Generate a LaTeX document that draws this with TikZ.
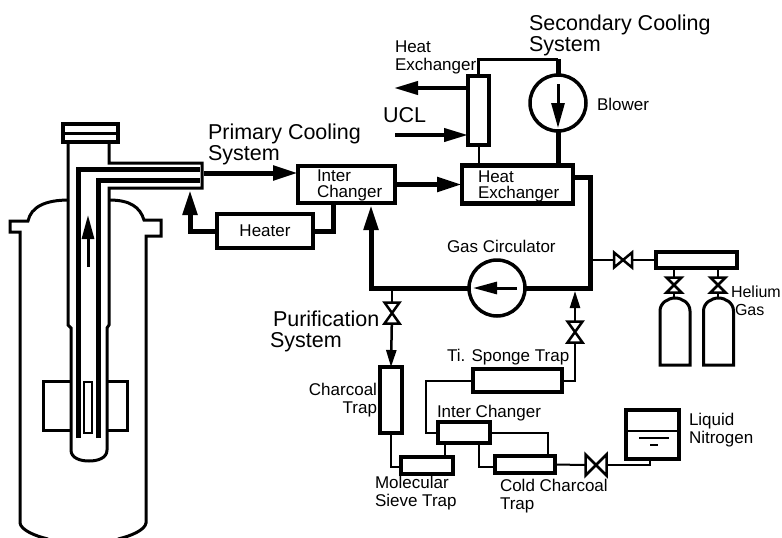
\documentclass[tikz,border=0pt]{standalone}
\usepackage{xcolor}
\usepackage{fontspec}
\setmainfont{Liberation Sans}
\usetikzlibrary{positioning,arrows.meta}

\tikzset{
  pipe/.style={line width=5pt},
  flow/.style={line width=5pt, -{Triangle[length=25pt,width=14pt]}},
  medline/.style={line width=3pt},
  thinline/.style={line width=2pt},
  thinflow/.style={line width=2.5pt, -{Triangle[length=17pt,width=10pt]}},
  box/.style={draw, line width=4.5pt, align=left},
  smallbox/.style={draw, line width=3.5pt},
  wheel/.style={draw, circle, line width=3.5pt, minimum size=56pt},
  big/.style={font=\fontsize{21.5}{21}\selectfont, align=left, anchor=west},
  lab/.style={align=left, anchor=west},
}
\newcommand{\valvev}[4]{%
  \node (#1) [minimum width=#3, minimum height=#4] at (#2) {};
  \draw[line width=2.5pt, line join=miter] (#1.north west) -- (#1.north east) -- (#1.south west) -- (#1.south east) -- cycle;}
\newcommand{\valveh}[4]{%
  \node (#1) [minimum width=#3, minimum height=#4] at (#2) {};
  \draw[line width=2.5pt, line join=miter] (#1.north west) -- (#1.south west) -- (#1.north east) -- (#1.south east) -- cycle;}
\newcommand{\bottle}[1]{%
  \draw[medline, xshift=#1pt] (-15,365) -- (-15,311) .. controls (-15,303) and (-7,298) .. (0,298) .. controls (7,298) and (15,303) .. (15,311) -- (15,365) -- cycle;}

\begin{document}
\begin{tikzpicture}[x=1pt, y=-1pt, every node/.style={inner sep=0pt, outer sep=0pt, font=\fontsize{17}{18}\selectfont}]
    \useasboundingbox (0,0) rectangle (782,538);

    % reactor
    \draw[medline] (69,200) .. controls (45,200) and (31,207) .. (28,221) -- (10,221) -- (10,232) -- (20,232) -- (20,523) .. controls (21,530) and (35,536) .. (48,539);
    \draw[medline] (109,200) .. controls (130,200) and (140,207) .. (144,220) -- (161,220) -- (161,236) -- (146,236) -- (146,523) .. controls (145,530) and (131,536) .. (118,539);
    \draw[medline] (68,142) -- (68,325) -- (71,328) -- (71,450) .. controls (71,458) and (80,461) .. (89,461) .. controls (98,461) and (107,458) .. (107,450) -- (107,328) -- (109,325) -- (109,188) -- (202,188) -- (202,163) -- (109,163) -- (109,142);
    \draw[line width=4pt] (63,124) rectangle (118,142);
    \draw[line width=3pt] (63,133) -- (118,133);
    \draw[pipe] (78,438) -- (78,169) -- (200,169);
    \draw[pipe] (98,438) -- (98,180) -- (200,180);
    \draw[thinline] (84,382) rectangle (92,433);
    \draw[medline] (71,381) -- (43,381) -- (43,430) -- (71,430);
    \draw[medline] (107,381) -- (127,381) -- (127,430) -- (107,430);
    \draw[line width=3pt, -{Triangle[length=24pt,width=12pt]}] (88,267) -- (88,215);

    % primary loop
    \node (IC) [box, minimum width=97pt, minimum height=37pt] at (346.5,184.5) {};
    \node (HE) [box, right=67pt of IC, minimum width=111pt, minimum height=38pt] {};
    \node (HT) [box, below left=11pt and -15pt of IC, minimum width=96pt, minimum height=34pt] {Heater};
    \node (GC) [wheel] at (497,288) {};
    \node (IT) [lab, right=19pt of IC.west, yshift=-1pt] {Inter\\[-2pt]Changer};
    \node (HN) [lab, right=16pt of HE.west, yshift=-2pt] {Heat\\[-2pt]Exchanger};
    \coordinate (PO) at (204,173);
    \coordinate (RI) at (190,190);
    \coordinate (IB) at (333,203);
    \coordinate (IA) at (371,205);
    \coordinate (HO) at (573,177);
    \coordinate (LC) at (590,288);
    \draw[flow] (PO) -- (IC.west |- PO);
    \draw[flow] (IC.east) -- (HE.west);
    \draw[flow] (HT.west) -| (RI);
    \draw[pipe] (HT.east) -| (IB);
    \draw[pipe] (HO) -| (LC) -- (GC.east);
    \draw[flow] (GC.west) -| (IA);
    \draw[line width=3pt, -{Triangle[length=24pt,width=12pt]}] ([xshift=20pt]GC.center) -- ([xshift=-24pt]GC.center);

    % secondary loop
    \node (HX) [box, minimum width=21pt, minimum height=69pt] at (478.5,110.5) {};
    \node (BL) [wheel] at (558,103) {};
    \coordinate (ST) at (558,59);
    \coordinate (UO) at (394,88);
    \coordinate (UI) at (395,135);
    \draw[medline] (HX.north) |- (ST);
    \draw[pipe] (ST) -- (BL.north);
    \draw[pipe] (BL.south) -- (BL.south |- HE.north);
    \draw[thinline] (HX.south) -- (HX.south |- HE.north);
    \draw[line width=4pt, -{Triangle[length=24pt,width=13pt]}] (HX.west |- UO) -- (UO);
    \draw[line width=4pt, -{Triangle[length=24pt,width=13pt]}] (UI) -- (UI -| HX.west);
    \draw[line width=3pt, -{Triangle[length=25pt,width=13pt]}] ([yshift=19pt]BL.center) -- ([yshift=-25pt]BL.center);

    % helium supply
    \coordinate (GL) at (590,260);
    \valveh{VG}{623,260}{18pt}{15pt}
    \node (MF) [smallbox, minimum width=81pt, minimum height=16pt] at (696.5,260) {};
    \valvev{VA}{674,285}{15pt}{15pt}
    \valvev{VB}{718,285}{15pt}{15pt}
    \coordinate (CA) at (674,298);
    \coordinate (CB) at (718,298);
    \draw[thinline] (GL) -- (VG) -- (MF.west);
    \draw[thinline] (MF.south -| VA) -- (VA) -- (CA);
    \draw[thinline] (MF.south -| VB) -- (VB) -- (CB);
    \bottle{675}
    \bottle{718.5}

    % purification line
    \coordinate (GT) at (392,288);
    \coordinate (GA) at (575,291);
    \valvev{VP}{392,313}{15pt}{21pt}
    \valvev{VT}{575,332}{15pt}{21pt}
    \node (CT) [smallbox, minimum width=22pt, minimum height=66pt] at (391,400) {};
    \node (TS) [smallbox, minimum width=89pt, minimum height=23pt] at (517.5,380.5) {};
    \node (IL) [smallbox, minimum width=52pt, minimum height=21pt] at (464,432.5) {};
    \node (MS) [smallbox, minimum width=52pt, minimum height=17pt] at (427,465.5) {};
    \node (CC) [smallbox, minimum width=60pt, minimum height=17pt] at (525,464.5) {};
    \valveh{VN}{596,465}{21pt}{21pt}
    \node (LN) [box, minimum width=53pt, minimum height=49pt] at (652.5,434.5) {};
    \coordinate (NB) at (650,459);
    \coordinate (TL) at (426,381);
    \coordinate (CL) at (391,467);
    \coordinate (IR) at (548,432);
    \coordinate (II) at (479,467);
    \draw[thinline] (GT) -- (VP);
    \draw[thinflow] (VP) -- (CT.north);
    \draw[thinline] (TS.east) -| (VT.south);
    \draw[thinflow] (VT.north) -- (GA);
    \draw[thinline] (TS.west) -| (TL |- IL) -- (IL.west);
    \draw[thinline] (CT.south) |- (MS.west |- CL);
    \draw[thinline] (IL.south -| 445,0) -- (MS.north -| 445,0);
    \draw[thinline] (IL.south -| II) |- (CC.west |- II);
    \draw[thinline] (IL.east) -| (IR |- CC.north);
    \draw[thinline] (CC.east) -- (VN.west);
    \draw[thinline] (VN.east) -| (NB);
    \draw[line width=2.5pt] ([yshift=3.5pt]LN.west) -- ([yshift=3.5pt]LN.east);
    \draw[thinline] (639,438) -- (669,438);
    \draw[thinline] (650,445) -- (658,445);

    % labels
    \node (SL) [big] at (529,35) {Secondary Cooling\\System};
    \node (PL) [big] at (208,144.5) {Primary Cooling\\System};
    \node (UL) [big] at (383,115) {UCL};
    \node (RL) [big] at (270,331) {\hspace*{3pt}Purification\\System};
    \node (XL) [lab] at (395,57) {Heat\\Exchanger};
    \node (BT) [lab] at (597,104) {Blower};
    \node (GS) [lab] at (447,246) {Gas Circulator};
    \node (TT) [lab] at (447,357) {Ti. Sponge Trap};
    \node (CX) [align=right, anchor=east] at (377,400) {Charcoal\\Trap};
    \node (IX) [lab] at (437,413) {Inter Changer};
    \node (MX) [lab] at (375,493) {Molecular\\Sieve Trap};
    \node (DX) [lab] at (500,496) {Cold Charcoal\\Trap};
    \node (LX) [lab] at (689,430.5) {Liquid\\Nitrogen};
    \node (HG) [lab, font=\fontsize{16}{18}\selectfont] at (731,301) {Helium\\\hspace*{4pt}Gas};
\end{tikzpicture}
\end{document}
